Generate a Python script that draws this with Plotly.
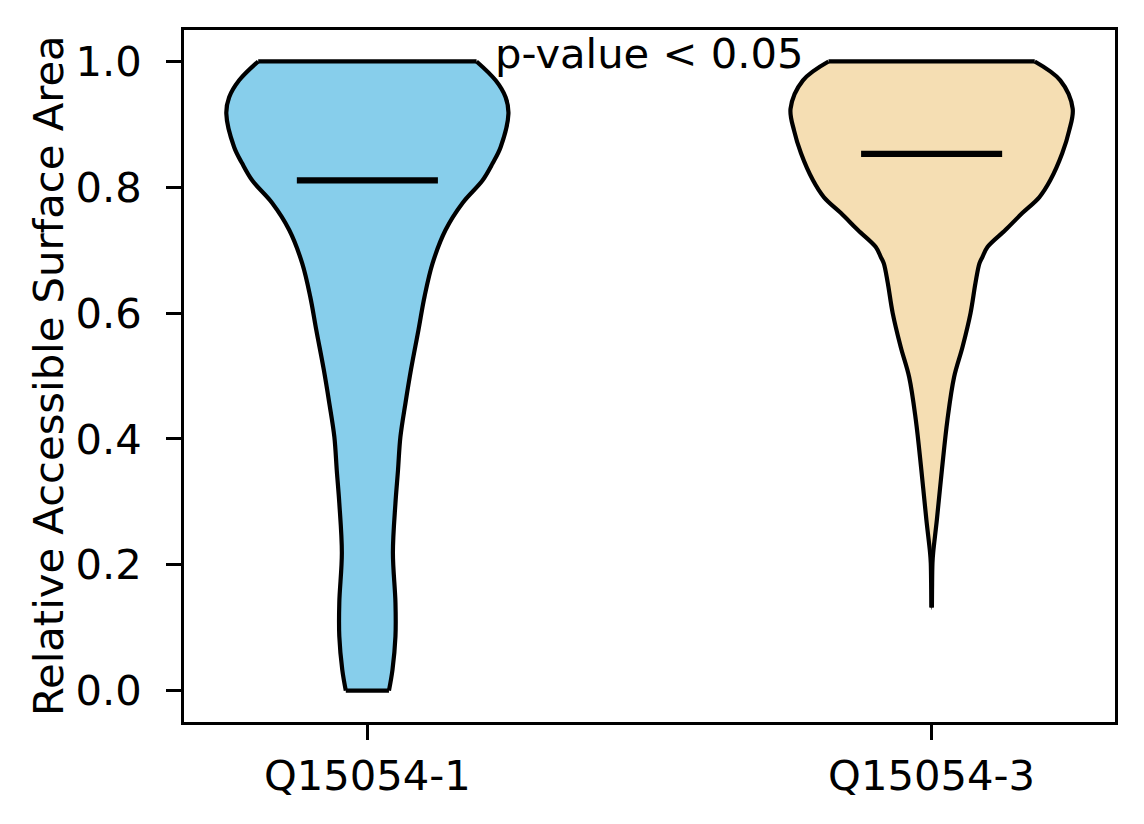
import plotly.graph_objects as go

# isoformes comparées
isoformes = ["Q15054-1", "Q15054-3"]
positions = [1, 2]
couleurs = ["#87CEEB", "#F5DEB3"]

# profil de densité (largeur normalisée, max = 1)
rsa_1 = [0.0, 0.033, 0.086, 0.14, 0.219, 0.298, 0.35, 0.403, 0.457, 0.51, 0.573,
         0.626, 0.679, 0.732, 0.775, 0.811, 0.838, 0.864, 0.917, 0.943, 0.97, 1.0]
dens_1 = [0.153, 0.178, 0.199, 0.199, 0.181, 0.199, 0.217, 0.234, 0.27, 0.309, 0.362,
          0.405, 0.462, 0.554, 0.675, 0.817, 0.888, 0.945, 1.0, 0.98, 0.909, 0.774]

rsa_3 = [0.132, 0.16, 0.203, 0.219, 0.271, 0.351, 0.43, 0.498, 0.546, 0.6, 0.648,
         0.679, 0.689, 0.705, 0.732, 0.759, 0.784, 0.811, 0.854, 0.89, 0.925, 0.97, 1.0]
dens_3 = [0.002, 0.003, 0.006, 0.011, 0.037, 0.073, 0.112, 0.159, 0.219, 0.276, 0.311,
          0.339, 0.36, 0.396, 0.523, 0.643, 0.763, 0.841, 0.926, 0.975, 1.0, 0.912, 0.731]

moyennes = [0.811, 0.853]
texte_pval = "p-value < 0.05"

demi_largeur = 0.25
police = dict(family="DejaVu Sans", size=41.7, color="black")

fig = go.Figure()

for pos, rsa, dens, coul, moy in zip(positions, [rsa_1, rsa_3], [dens_1, dens_3], couleurs, moyennes):
    droite = [pos + demi_largeur * d for d in dens]
    gauche = [pos - demi_largeur * d for d in dens]
    # remplissage
    fig.add_trace(go.Scatter(
        x=droite + gauche[::-1], y=rsa + rsa[::-1], mode="lines", fill="toself",
        fillcolor=coul, line=dict(width=0), hoverinfo="skip", showlegend=False,
    ))
    # contours lissés de chaque côté
    for cote in (droite, gauche):
        fig.add_trace(go.Scatter(
            x=cote, y=rsa, mode="lines",
            line=dict(color="black", width=4.2, shape="spline", smoothing=1.0),
            hoverinfo="skip", showlegend=False,
        ))
    # bords plats haut et bas
    for i in (0, -1):
        fig.add_trace(go.Scatter(
            x=[gauche[i], droite[i]], y=[rsa[i], rsa[i]], mode="lines",
            line=dict(color="black", width=4.2), hoverinfo="skip", showlegend=False,
        ))
    fig.add_trace(go.Scatter(
        x=[pos - demi_largeur / 2, pos + demi_largeur / 2], y=[moy, moy],
        mode="lines", line=dict(color="black", width=6.2),
        hoverinfo="skip", showlegend=False,
    ))

fig.add_annotation(
    x=1.5, y=1.013, text=texte_pval, showarrow=False,
    xanchor="center", yanchor="middle", font=police,
)
fig.add_annotation(
    xref="paper", yref="paper", x=0, y=0.5, xshift=-136,
    text="Relative Accessible Surface Area", textangle=-90, showarrow=False,
    xanchor="center", yanchor="middle", font=police,
)

axe = dict(
    showline=True, linecolor="black", linewidth=3.3, mirror=True,
    ticks="outside", ticklen=14.6, tickwidth=3.3, tickcolor="black",
    showgrid=False, zeroline=False, tickfont=police,
)
fig.update_xaxes(axe, range=[0.675, 2.325], tickvals=positions, ticktext=isoformes,
                 ticklabelstandoff=0)
fig.update_yaxes(axe, range=[-0.05, 1.05], tickvals=[0, 0.2, 0.4, 0.6, 0.8, 1.0],
                 tickformat=".1f", ticklabelstandoff=16)
fig.update_layout(
    width=1144, height=824,
    margin=dict(l=184, r=29, t=30, b=102),
    plot_bgcolor="white", paper_bgcolor="white",
    font=police,
)

fig.write_html("out.html", config={"displayModeBar": False},
               post_script="document.body.style.margin='0';")
